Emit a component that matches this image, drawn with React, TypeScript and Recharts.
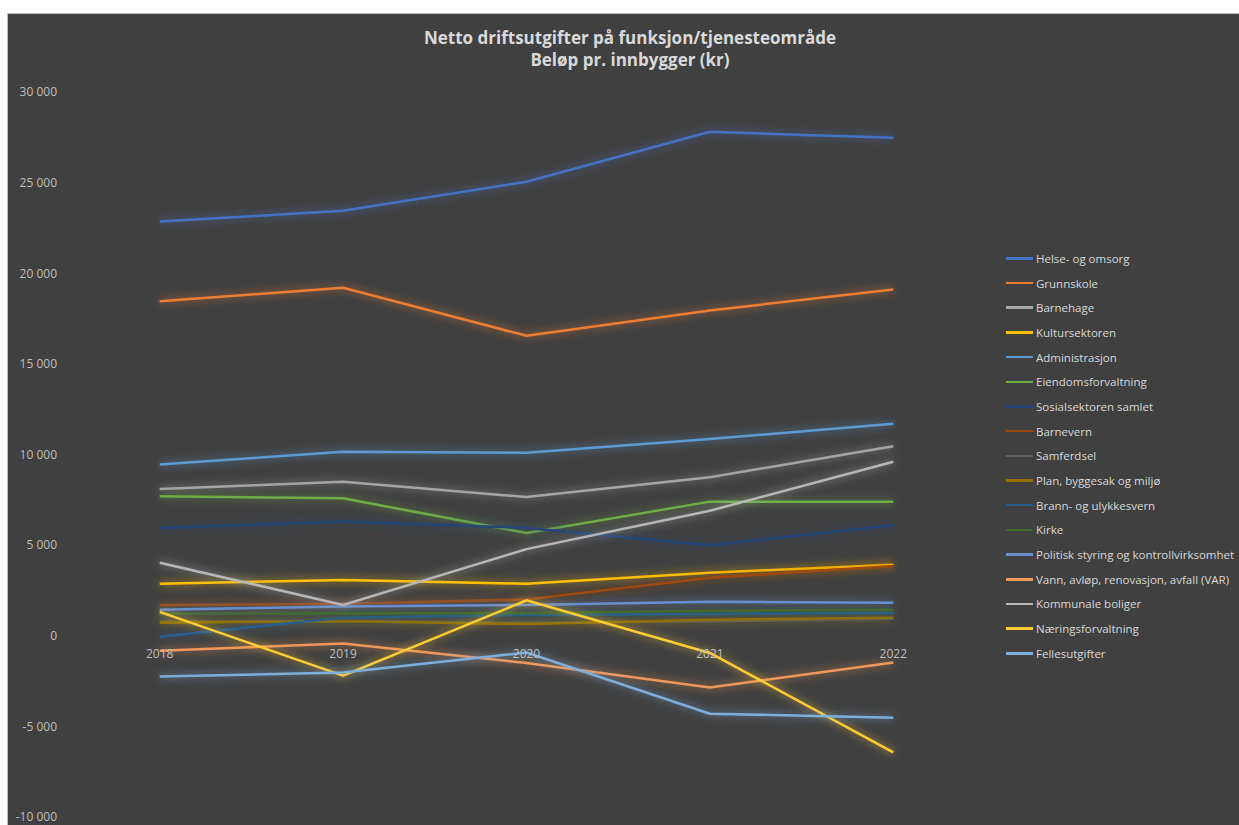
import { LineChart, Line, XAxis, YAxis } from 'recharts';

const years = ['2018', '2019', '2020', '2021', '2022'];

const helse = [22850, 23450, 25050, 27800, 27480];
const grunnskole = [18450, 19200, 16550, 17950, 19100];
const barnehage = [8100, 8500, 7650, 8750, 10450];
const kultur = [2870, 3080, 2870, 3480, 3920];
const administrasjon = [9450, 10150, 10100, 10850, 11700];
const eiendom = [7700, 7580, 5670, 7400, 7400];
const sosial = [5950, 6300, 5950, 5000, 6100];
const barnevern = [1700, 1760, 2000, 3200, 3850];
const samferdsel = [780, 820, 720, 800, 950];
const plan = [720, 800, 650, 880, 1000];
const brann = [-50, 1000, 1150, 1200, 1270];
const kirke = [1220, 1230, 1260, 1380, 1430];
const politisk = [1430, 1620, 1700, 1880, 1820];
const vann = [-830, -430, -1500, -2850, -1480];
const kommunale = [4030, 1700, 4780, 6900, 9600];
const naering = [1320, -2200, 1950, -950, -6430];
const felles = [-2250, -2030, -930, -4300, -4520];

const yTicks = [-10000, -5000, 0, 5000, 10000, 15000, 20000, 25000, 30000];

const series = [
  { key: 'Helse- og omsorg', values: helse, color: '#4472C4' },
  { key: 'Grunnskole', values: grunnskole, color: '#ED7D31' },
  { key: 'Barnehage', values: barnehage, color: '#A5A5A5' },
  { key: 'Kultursektoren', values: kultur, color: '#FFC000' },
  { key: 'Administrasjon', values: administrasjon, color: '#5B9BD5' },
  { key: 'Eiendomsforvaltning', values: eiendom, color: '#70AD47' },
  { key: 'Sosialsektoren samlet', values: sosial, color: '#264478' },
  { key: 'Barnevern', values: barnevern, color: '#9E480E' },
  { key: 'Samferdsel', values: samferdsel, color: '#636363' },
  { key: 'Plan, byggesak og miljø', values: plan, color: '#997300' },
  { key: 'Brann- og ulykkesvern', values: brann, color: '#255E91' },
  { key: 'Kirke', values: kirke, color: '#43682B' },
  { key: 'Politisk styring og kontrollvirksomhet', values: politisk, color: '#698ED0' },
  { key: 'Vann, avløp, renovasjon, avfall (VAR)', values: vann, color: '#F1975A' },
  { key: 'Kommunale boliger', values: kommunale, color: '#B7B7B7' },
  { key: 'Næringsforvaltning', values: naering, color: '#FFCD33' },
  { key: 'Fellesutgifter', values: felles, color: '#7CAFDD' },
];

const data = years.map((year, i) => {
  const row: Record<string, string | number> = { year };
  series.forEach((s) => {
    row[s.key] = s.values[i];
  });
  return row;
});

const W = 1232;
const H = 812;
const MARGIN = { top: 78, right: 254, bottom: 7, left: 0 };
const PLOT_H = H - MARGIN.top - MARGIN.bottom - 1;
const Y_MIN = -10000;
const Y_MAX = 30000;
const FONT = '"Open Sans", "Liberation Sans", sans-serif';

const fmt = (v: number) => {
  const s = Math.abs(v).toString().replace(/\B(?=(\d{3})+(?!\d))/g, '\u00a0');
  return v < 0 ? '-' + s : s;
};

// year labels sit just under the zero line, like Excel does
const YearTick = (props: any) => {
  const { x, y, payload } = props;
  const zeroUp = (PLOT_H * (0 - Y_MIN)) / (Y_MAX - Y_MIN);
  return (
    <text x={x} y={y - zeroUp + 14} textAnchor="middle" fill="#bfbfbf" fontSize={12} fontFamily={FONT}>
      {payload.value}
    </text>
  );
};

// legend drawn in series order, kept outside the chart so it does not shrink the plot
const LegendBox = () => (
  <div style={{ position: 'absolute', left: 998, top: 232, fontFamily: FONT, fontSize: 11.5, color: '#d9d9d9' }}>
    {series.map((s) => (
      <div key={s.key} style={{ display: 'flex', alignItems: 'center', height: 24.7 }}>
        <span style={{ display: 'inline-block', width: 27, height: 2.5, background: s.color, marginRight: 3 }} />
        <span style={{ whiteSpace: 'nowrap' }}>{s.key}</span>
      </div>
    ))}
  </div>
);

export default function App() {
  return (
    <div style={{ position: 'absolute', left: 7, top: 13, width: W, height: H, background: '#404040', borderLeft: '1px solid #bfbfbf', borderTop: '1px solid #bfbfbf', boxSizing: 'border-box' }}>
      <div style={{ position: 'absolute', left: 0, top: 13, width: W + 12, textAlign: 'center', fontFamily: FONT, fontWeight: 700, fontSize: 17, lineHeight: '22px', color: '#d9d9d9', zIndex: 2 }}>
        Netto driftsutgifter på funksjon/tjenesteområde
        <br />
        Beløp pr. innbygger (kr)
      </div>
      <LegendBox />
      <LineChart width={W - 1} height={H - 1} data={data} margin={MARGIN}>
        <defs>
          <filter id="glow" filterUnits="userSpaceOnUse" x="0" y="0" width={W} height={H}>
            <feGaussianBlur in="SourceGraphic" stdDeviation="4" result="b" />
            <feComponentTransfer in="b" result="b2">
              <feFuncA type="linear" slope="0.8" />
            </feComponentTransfer>
            <feMerge>
              <feMergeNode in="b2" />
              <feMergeNode in="SourceGraphic" />
            </feMerge>
          </filter>
        </defs>
        <XAxis
          dataKey="year"
          axisLine={false}
          tickLine={false}
          height={1}
          tick={<YearTick />}
          interval={0}
          padding={{ left: 91.7, right: 91.7 }}
        />
        <YAxis
          domain={[Y_MIN, Y_MAX]}
          ticks={yTicks}
          width={60}
          axisLine={false}
          tickLine={false}
          tickFormatter={fmt}
          tick={{ fill: '#bfbfbf', fontSize: 12, fontFamily: FONT, dx: -3 }}
          interval={0}
        />
        {series.map((s) => (
          <Line
            key={s.key}
            type="linear"
            dataKey={s.key}
            stroke={s.color}
            strokeWidth={2.5}
            dot={false}
            activeDot={false}
            isAnimationActive={false}
            filter="url(#glow)"
          />
        ))}
      </LineChart>
    </div>
  );
}
